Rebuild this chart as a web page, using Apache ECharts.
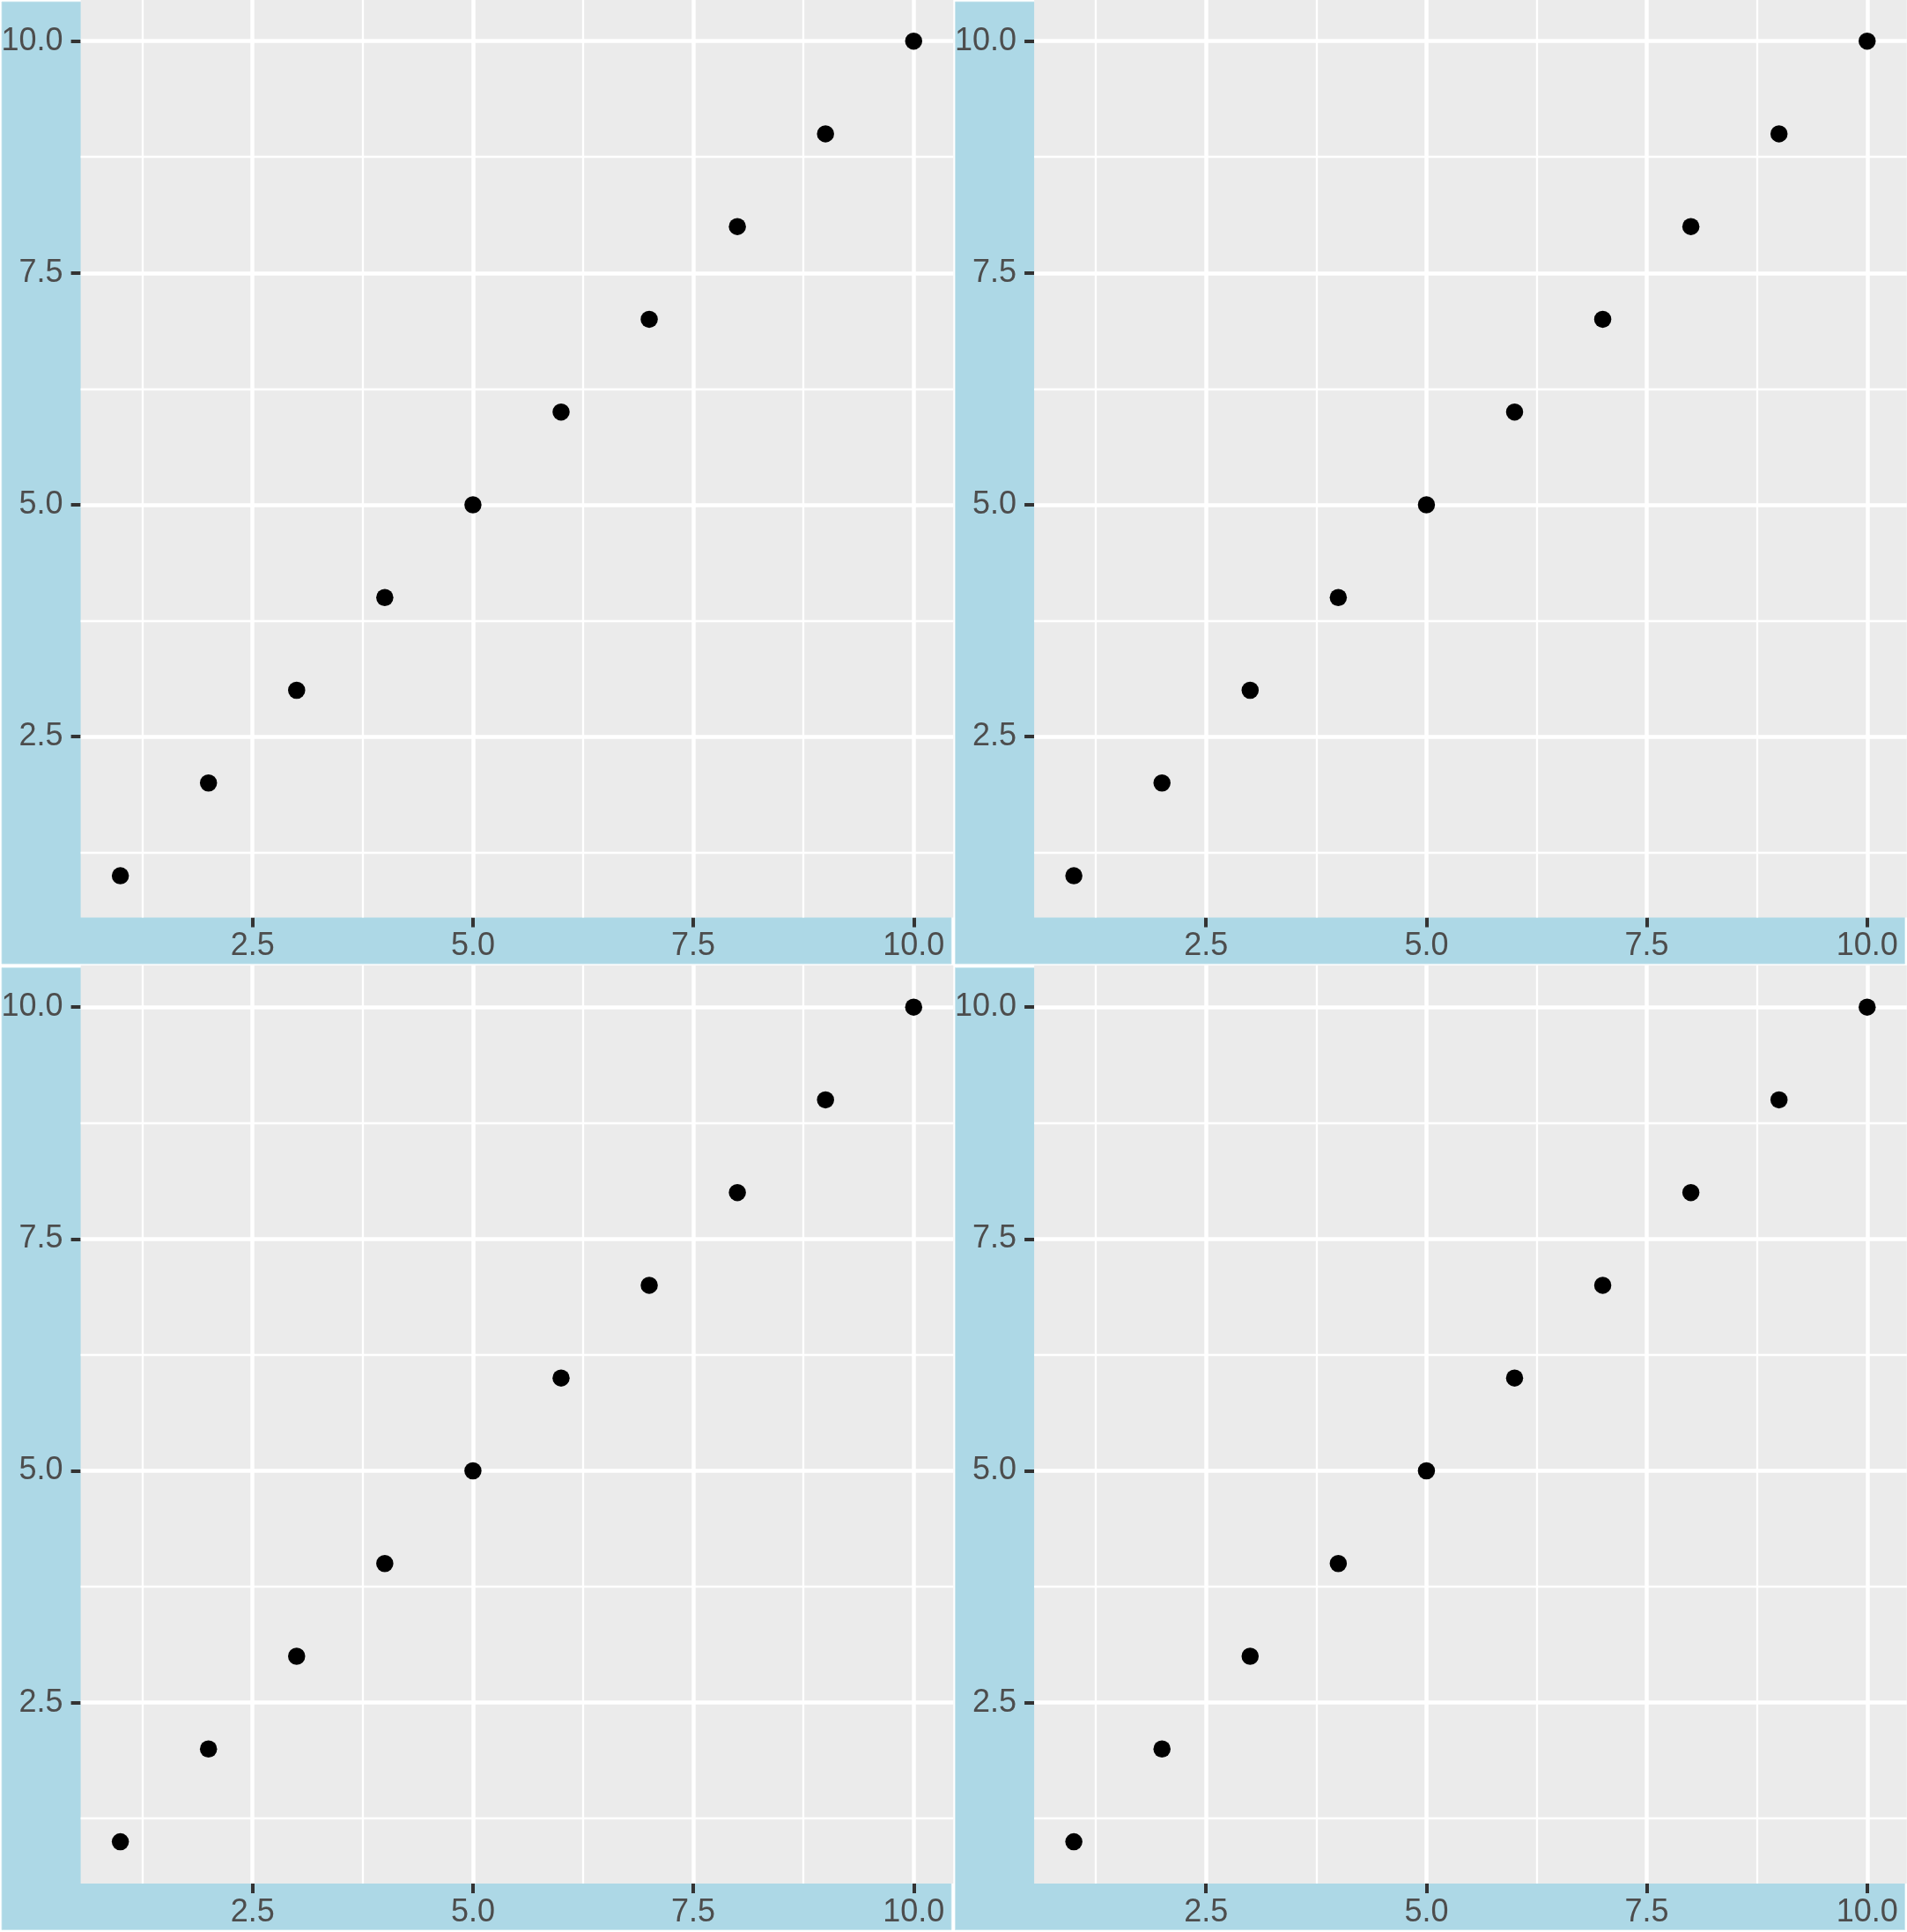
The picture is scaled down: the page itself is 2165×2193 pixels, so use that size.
<!DOCTYPE html>
<html>
<head>
<meta charset="utf-8">
<script src="https://cdn.jsdelivr.net/npm/echarts@6/dist/echarts.min.js"></script>
<style>
html,body{margin:0;padding:0;background:#ffffff;}
#chart{width:2165px;height:2193px;}
</style>
</head>
<body>
<div id="chart"></div>
<script>
// ---- data ----
const xValues = [1, 2, 3, 4, 5, 6, 7, 8, 9, 10];
const yValues = [1, 2, 3, 4, 5, 6, 7, 8, 9, 10];
const majorBreaks = [2.5, 5, 7.5, 10];
const minorBreaks = [1.25, 3.75, 6.25, 8.75];
const tickLabels = ['2.5', '5.0', '7.5', '10.0'];
const axisMin = 0.55;
const axisMax = 10.45;
const panels = [[0, 0], [1, 0], [0, 1], [1, 1]]; // [col, row]

// ---- layout / style ----
const W = 2165, H = 2193;
const cellW = W / 2, cellH = H / 2;
const textColor = '#4D4D4D';
const fontSize = 36;
const fontFamily = '"Liberation Sans", Arial, Helvetica, sans-serif';

const chart = echarts.init(document.getElementById('chart'), null, {renderer: 'canvas'});

const points = xValues.map((x, i) => [x, yValues[i]]);
const labelFmt = v => {
  const idx = majorBreaks.indexOf(v);
  return idx >= 0 ? tickLabels[idx] : String(v);
};

const grids = [], xAxes = [], yAxes = [], series = [], graphics = [];

panels.forEach(([col, row], i) => {
  const ox = col * cellW, oy = row * cellH;
  graphics.push({
    type: 'rect', z: -10, silent: true,
    shape: {x: ox + 2, y: oy + 2, width: cellW - 4.5, height: cellH - 4.5},
    style: {fill: '#ADD8E6', stroke: '#C8E6EE', lineWidth: 0.8}
  });
  grids.push({
    left: ox + 91.6, top: oy - 0.7, width: 990.7, height: 1042.1,
    show: true, backgroundColor: '#EBEBEB', borderWidth: 0,
    containLabel: false, outerBoundsMode: 'none'
  });
  xAxes.push({
    type: 'value', gridIndex: i, min: axisMin, max: axisMax,
    axisLine: {show: false},
    splitLine: {show: false},
    axisTick: {show: true, customValues: majorBreaks, length: 11, lineStyle: {color: '#333333', width: 4}},
    axisLabel: {show: true, customValues: majorBreaks, formatter: labelFmt, color: textColor,
      fontSize: fontSize, fontFamily: fontFamily, margin: 15}
  });
  yAxes.push({
    type: 'value', gridIndex: i, min: axisMin, max: axisMax,
    axisLine: {show: false},
    splitLine: {show: false},
    axisTick: {show: true, customValues: majorBreaks, length: 11, lineStyle: {color: '#333333', width: 4}},
    axisLabel: {show: true, customValues: majorBreaks, formatter: labelFmt, color: textColor,
      fontSize: fontSize, fontFamily: fontFamily, margin: 20}
  });
  const gridLine = (vals, key, width) => vals.map(v => ({[key]: v, lineStyle: {color: '#FFFFFF', width: width, type: 'solid'}}));
  series.push({
    type: 'line', xAxisIndex: i, yAxisIndex: i, z: 1,
    data: points, showSymbol: false, symbol: 'none',
    lineStyle: {opacity: 0, width: 0}, silent: true,
    markLine: {
      silent: true, symbol: ['none', 'none'], label: {show: false}, animation: false,
      data: [].concat(
        gridLine(minorBreaks, 'xAxis', 2.3),
        gridLine(minorBreaks, 'yAxis', 2.3),
        gridLine(majorBreaks, 'xAxis', 4.5),
        gridLine(majorBreaks, 'yAxis', 4.5)
      )
    }
  });
  series.push({
    type: 'scatter', xAxisIndex: i, yAxisIndex: i, z: 5,
    data: points, symbol: 'circle', symbolSize: 19.5,
    itemStyle: {color: '#000000', opacity: 1}
  });
});

chart.setOption({
  animation: false,
  backgroundColor: '#FFFFFF',
  graphic: {elements: graphics},
  grid: grids,
  xAxis: xAxes,
  yAxis: yAxes,
  series: series
});
</script>
</body>
</html>
